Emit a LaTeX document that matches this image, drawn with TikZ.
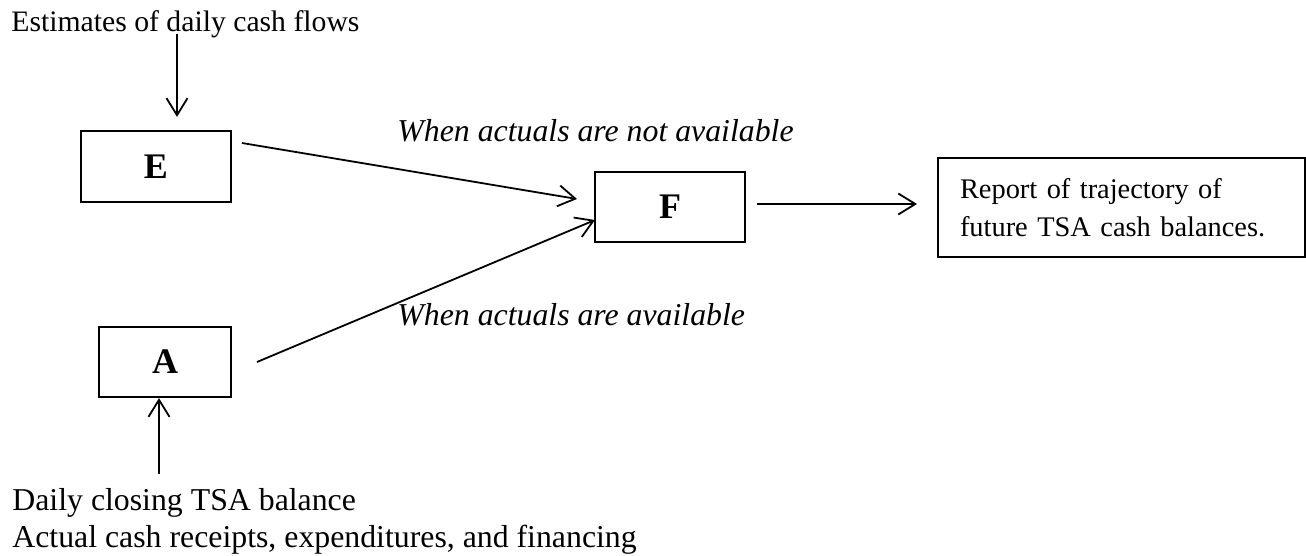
\documentclass[tikz,border=0pt]{standalone}
\usepackage{fontspec}
\setmainfont{Liberation Serif}
\usetikzlibrary{arrows.meta}
\begin{document}
\begin{tikzpicture}[x=0.5pt,y=-0.5pt,
  every node/.style={font=\fontsize{14.85}{18.5}\selectfont},
  box/.style={draw,line width=1.1pt,inner sep=0pt,font=\fontsize{18}{20}\selectfont\bfseries},
  txt/.style={inner sep=0pt,anchor=base west},
  lbl/.style={txt,font=\fontsize{15.9}{18.5}\selectfont\itshape},
  big/.style={txt,font=\fontsize{15.9}{18.5}\selectfont},
  arr/.style={line width=0.9pt,-{Straight Barb[length=8.5pt,width=10.5pt,line width=0.9pt]}}]
\useasboundingbox (0,0) rectangle (1306,556);
% boxes
\node[box,minimum width=75pt,minimum height=35.5pt] (E) at (156,166.5) {E};
\node[box,minimum width=75pt,minimum height=35pt] (F) at (670,207) {F};
\node[box,minimum width=66pt,minimum height=35pt] (A) at (165,362) {A};
\node[draw,line width=1.1pt,inner xsep=11pt,inner ysep=0pt,text width=161.5pt,align=left,
      minimum height=49.5pt,font=\fontsize{14.2}{19}\selectfont] (R) at (1121.5,207.5)
      {Report of trajectory of\\future TSA cash balances.};
% texts
\node[txt] (est) at (11,32) {Estimates of daily cash flows};
\node[big] (d1) at (12,510) {Daily closing TSA balance};
\node[big] (d2) at (12,547) {Actual cash receipts, expenditures, and financing};
\node[lbl] (l1) at (397,141) {When actuals are not available};
\node[lbl] (l2) at (397,325) {When actuals are available};
% connector ends
\coordinate (e1) at (177,34);
\coordinate (eo) at (242,143);
\coordinate (fi1) at (577,199);
\coordinate (ao) at (257,362);
\coordinate (fi2) at (595,220);
\coordinate (fo) at (757,204);
\coordinate (ri) at (917,204);
\coordinate (a1) at (159,474);
% connectors
\draw[arr] (e1) -- (e1 |- E.north) [shorten >=6.5pt];
\draw[arr] (eo) -- (fi1);
\draw[arr] (ao) -- (fi2);
\draw[arr] (fo) -- (ri);
\draw[arr] (a1) -- (a1 |- A.south);
\end{tikzpicture}
\end{document}
